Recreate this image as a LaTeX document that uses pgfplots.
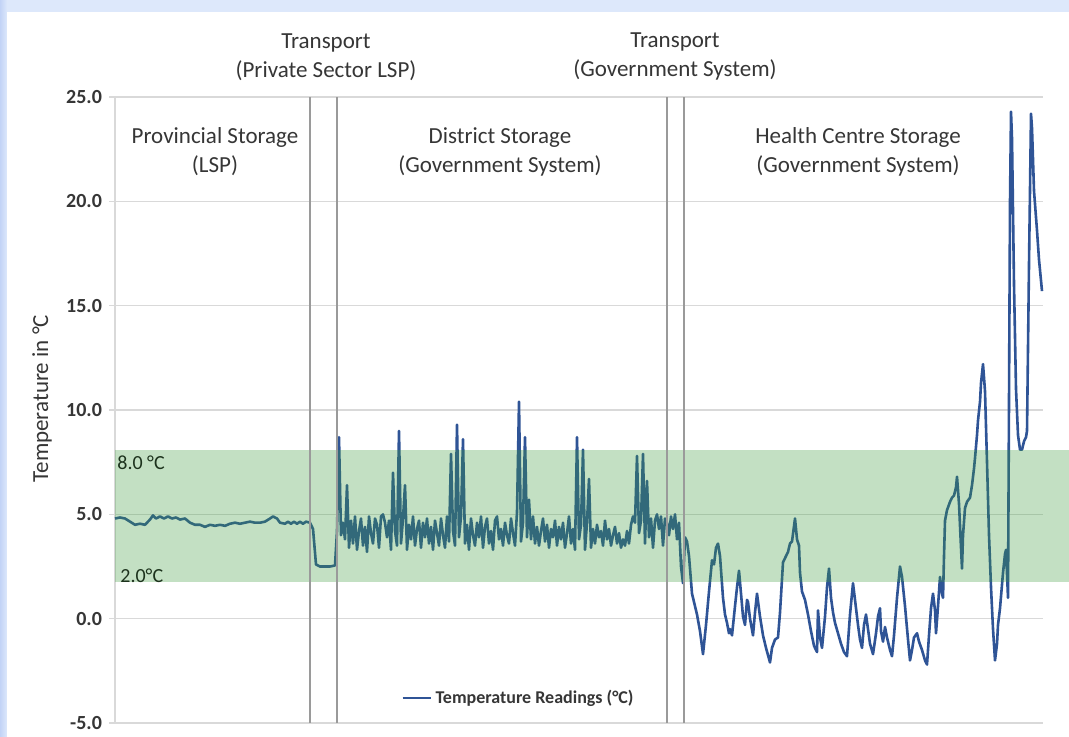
\documentclass[border=0pt]{standalone}
\usepackage{fontspec}
\setmainfont{Carlito}
\usepackage{pgfplots}
\pgfplotsset{compat=1.18}

\definecolor{bgblue}{HTML}{DDE8FB}
\definecolor{bgleft}{HTML}{C2D3F6}
\definecolor{gridgray}{HTML}{D9D9D9}
\definecolor{sepgray}{HTML}{9A9A9A}
\definecolor{textgray}{HTML}{363636}
\definecolor{lineblue}{HTML}{2F5496}
\definecolor{bandgreen}{HTML}{3A9B3A}

\tikzset{catlbl/.style={align=center, font=\fontsize{11.5}{14.5}\selectfont, text=textgray}}

\begin{document}
\begin{tikzpicture}
% 1 px of the reference = 0.5pt; axis area = px 115..1043 x py 97..723
\useasboundingbox (-57.5pt,-6.5pt) rectangle (477pt,361.5pt);
\fill[bgblue] (-57.5pt,-6.5pt) rectangle (477pt,361.5pt);
\shade[left color=bgleft, right color=bgblue] (-57.5pt,-6.5pt) rectangle (-54pt,361.5pt);
\fill[white] (-54pt,-6.5pt) rectangle (477pt,355.5pt);

\begin{axis}[
  at={(0,0)}, anchor=south west,
  scale only axis,
  width=464pt, height=313pt,
  xmin=115, xmax=1043,
  ymin=-5, ymax=25,
  ytick={-5,0,5,10,15,20,25},
  xtick=\empty,
  axis x line=none,
  axis y line*=left,
  axis line style={gridgray, line width=0.7pt},
  ymajorgrids,
  grid style={gridgray, line width=0.7pt},
  ytick style={gridgray, line width=0.7pt},
  tick align=outside,
  major tick length=3pt,
  yticklabel style={font=\bfseries\fontsize{10}{12}\selectfont, text=textgray},
  /pgf/number format/.cd, fixed, fixed zerofill, precision=1, assume math mode=true,
  /pgfplots/.cd,
  clip=false,
  legend style={at={(0.436,0.04)}, anchor=center, draw=none, fill=none,
    font=\bfseries\fontsize{9}{11}\selectfont, text=textgray, inner sep=1pt},
  legend image code/.code={\draw[#1, line width=1pt] (0pt,0pt) -- (14pt,0pt);},
]

\addplot[lineblue, line width=1.3pt, line join=round] coordinates {
% provincial storage
(115,4.8) (120,4.85) (125,4.8) (130,4.65) (135,4.5) (140,4.55) (145,4.5) (150,4.75)
(153,4.95) (156,4.8) (160,4.9) (164,4.8) (168,4.9) (172,4.8) (176,4.85) (180,4.75)
(185,4.8) (190,4.6) (195,4.5) (200,4.5) (205,4.4) (210,4.5) (215,4.45) (220,4.5)
(225,4.45) (230,4.55) (235,4.6) (240,4.55) (245,4.6) (250,4.65) (255,4.6) (260,4.6)
(265,4.65) (270,4.8) (273,4.9) (277,4.8) (280,4.6) (285,4.55) (288,4.65) (291,4.55)
(294,4.65) (297,4.55) (300,4.65) (303,4.55) (306,4.65) (310,4.6)
% transport (private sector)
(313,4.3) (316,2.6) (320,2.5) (330,2.5) (335,2.55)
% district storage
(337,4.2) (339,8.7) (341,4.0) (343,4.6) (345,3.8) (347,6.4) (349,3.4) (351,4.7)
(353,3.6) (355,4.9) (357,3.3) (359,4.2) (361,4.8) (363,3.5) (365,4.4) (367,3.2)
(369,4.9) (371,4.1) (373,3.6) (375,4.8) (377,4.5) (379,3.4) (381,4.9) (383,5.0)
(385,4.6) (387,3.9) (389,4.7) (391,3.3) (393,7.0) (395,4.2) (397,3.5) (399,9.0)
(401,3.6) (403,4.8) (405,6.4) (407,3.3) (409,4.5) (411,3.8) (413,4.9) (415,3.5)
(417,4.3) (419,4.7) (421,3.4) (423,4.6) (425,3.9) (427,4.8) (429,3.6) (431,4.4)
(433,3.3) (435,4.7) (437,4.1) (439,3.5) (441,4.8) (443,4.0) (445,3.4) (447,4.9)
(449,3.7) (451,7.9) (453,4.2) (455,3.5) (457,9.3) (459,3.9) (461,4.9) (463,8.6)
(465,3.6) (467,4.5) (469,3.3) (471,4.8) (473,4.0) (475,3.5) (477,4.6) (479,3.9)
(481,4.9) (483,3.4) (485,4.4) (487,4.8) (489,3.6) (491,4.2) (493,3.3) (495,4.7)
(497,4.9) (499,3.8) (501,4.3) (503,3.5) (505,4.6) (507,4.0) (509,3.6) (511,4.8)
(513,4.1) (515,3.5) (517,5.1) (519,10.4) (521,3.7) (523,4.6) (525,8.7) (527,3.9)
(529,5.7) (531,3.8) (533,4.9) (535,3.6) (537,4.4) (539,3.5) (541,4.2) (543,4.8)
(545,3.7) (547,4.5) (549,3.4) (551,4.3) (553,3.9) (555,4.7) (557,3.5) (559,4.4)
(561,3.8) (563,4.6) (565,3.4) (567,4.1) (569,4.9) (571,3.6) (573,4.3) (575,3.3)
(577,8.7) (579,3.8) (581,4.5) (583,8.1) (585,3.3) (587,4.6) (589,6.7) (591,3.4)
(593,4.3) (595,3.6) (597,4.5) (599,3.9) (601,4.2) (603,3.5) (605,4.7) (607,3.8)
(609,4.3) (611,3.5) (613,4.0) (615,4.4) (617,3.6) (619,4.1) (621,3.4) (623,3.8)
(625,3.5) (627,4.2) (629,3.6) (631,4.5) (633,4.9) (635,4.6) (637,7.8) (639,4.1)
(641,4.7) (643,7.9) (645,3.6) (647,6.6) (649,3.9) (651,4.8) (653,3.4) (655,4.7)
(657,5.0) (659,4.3) (661,4.9) (663,3.5) (665,4.8)
% transport (government system)
(667,4.6) (669,4.0) (671,4.9) (673,4.3) (675,5.0) (677,3.8) (679,4.6) (681,2.5)
% health centre storage
(683,1.7) (685,3.9) (687,3.7) (689,3.0) (692,1.2) (695,0.6) (697,0.2) (700,-0.6)
(703,-1.7) (706,-0.3) (709,1.3) (712,2.8) (714,2.6) (716,3.4) (718,3.6) (720,3.0)
(723,1.0) (725,0.2) (727,-0.2) (729,-0.7) (730,-0.5) (732,-0.8) (735,0.6) (737,1.5)
(739,2.3) (741,1.2) (743,0.1) (745,-0.3) (747,0.9) (748,0.8) (750,0.0) (753,-0.8)
(755,0.3) (757,1.2) (760,0.1) (763,-0.8) (766,-1.4) (770,-2.1) (772,-1.4) (775,-1.0)
(778,-0.9) (780,0.3) (783,2.7) (786,3.0) (788,3.2) (790,3.6) (792,3.7) (795,4.8)
(797,3.8) (799,3.5) (800,2.2) (802,1.3) (805,0.9) (808,0.2) (811,-0.6) (814,-1.3)
(817,-1.6) (818,0.4) (820,-0.9) (822,-1.4) (825,0.1) (827,1.5) (829,2.4) (831,1.0)
(833,0.3) (835,-0.2) (838,-0.7) (841,-1.2) (844,-1.6) (847,-1.8) (850,0.2) (853,1.7)
(855,0.9) (858,-0.3) (860,-1.0) (862,-1.4) (864,-0.3) (866,0.2) (868,-0.5) (870,-1.2)
(873,-1.7) (876,-0.7) (878,0.1) (880,0.5) (881,-0.6) (883,-1.1) (885,-0.4) (887,-0.9)
(890,-1.5) (892,-1.8) (894,-0.8) (897,1.0) (900,2.5) (902,2.0) (905,0.6) (908,-1.0)
(910,-2.0) (912,-1.5) (914,-0.9) (917,-0.7) (919,-1.1) (922,-1.5) (925,-2.0) (927,-2.2)
(929,-0.8) (931,0.5) (933,1.2) (935,0.4) (936,-0.7) (938,0.6) (940,2.0) (942,1.2)
(943,1.0) (944,3.0) (945,4.7) (947,5.2) (950,5.6) (952,5.8) (954,5.9) (956,6.3)
(957,6.8) (959,5.5) (961,3.4) (962,2.4) (963,4.0) (965,5.3) (967,5.6) (970,5.8)
(972,6.4) (974,7.2) (975,7.7) (977,8.8) (978,9.5) (980,10.4) (981,11.3) (983,12.2)
(985,10.9) (987,7.5) (989,4.0) (991,1.5) (993,-0.5) (995,-2.0) (997,-1.2) (998,-0.3)
(1000,0.5) (1003,2.2) (1005,3.1) (1006,3.3) (1008,1.0) (1010,20.0) (1011,24.3) (1012,23.0)
(1014,16.0) (1016,11.0) (1018,8.8) (1020,8.1) (1022,8.1) (1024,8.5) (1026,8.7) (1027,9.0)
(1029,17.0) (1031,24.2) (1032,23.5) (1034,20.5) (1037,18.6) (1039,17.2) (1042,15.7)
};
\addlegendentry{Temperature Readings (°C)}

% recommended storage range, laid over the readings
\fill[bandgreen, opacity=0.3] (axis cs:115,1.75) rectangle (axis cs:1069,8.1);

% phase separators
\draw[sepgray, line width=1pt] (axis cs:310,-5) -- (axis cs:310,25);
\draw[sepgray, line width=1pt] (axis cs:337,-5) -- (axis cs:337,25);
\draw[sepgray, line width=1pt] (axis cs:667,-5) -- (axis cs:667,25);
\draw[sepgray, line width=1pt] (axis cs:684,-5) -- (axis cs:684,25);

\node[catlbl] at (axis cs:326,26.93) {Transport\\(Private Sector LSP)};
\node[catlbl] at (axis cs:675,26.93) {Transport\\(Government System)};
\node[catlbl] at (axis cs:215,22.36) {Provincial Storage\\(LSP)};
\node[catlbl] at (axis cs:500,22.36) {District Storage\\(Government System)};
\node[catlbl] at (axis cs:858,22.36) {Health Centre Storage\\(Government System)};

\node[anchor=west, inner sep=0pt, font=\fontsize{10}{12}\selectfont, text=textgray!85!green!60!black]
  at (axis cs:117,7.48) {8.0 °C};
\node[anchor=west, inner sep=0pt, font=\fontsize{10}{12}\selectfont, text=textgray!85!green!60!black]
  at (axis cs:120,2.06) {2.0°C};

\node[rotate=90, font=\fontsize{11.5}{13}\selectfont, text=textgray] at (axis cs:42,10.54) {Temperature in °C};
\end{axis}
\end{tikzpicture}
\end{document}
